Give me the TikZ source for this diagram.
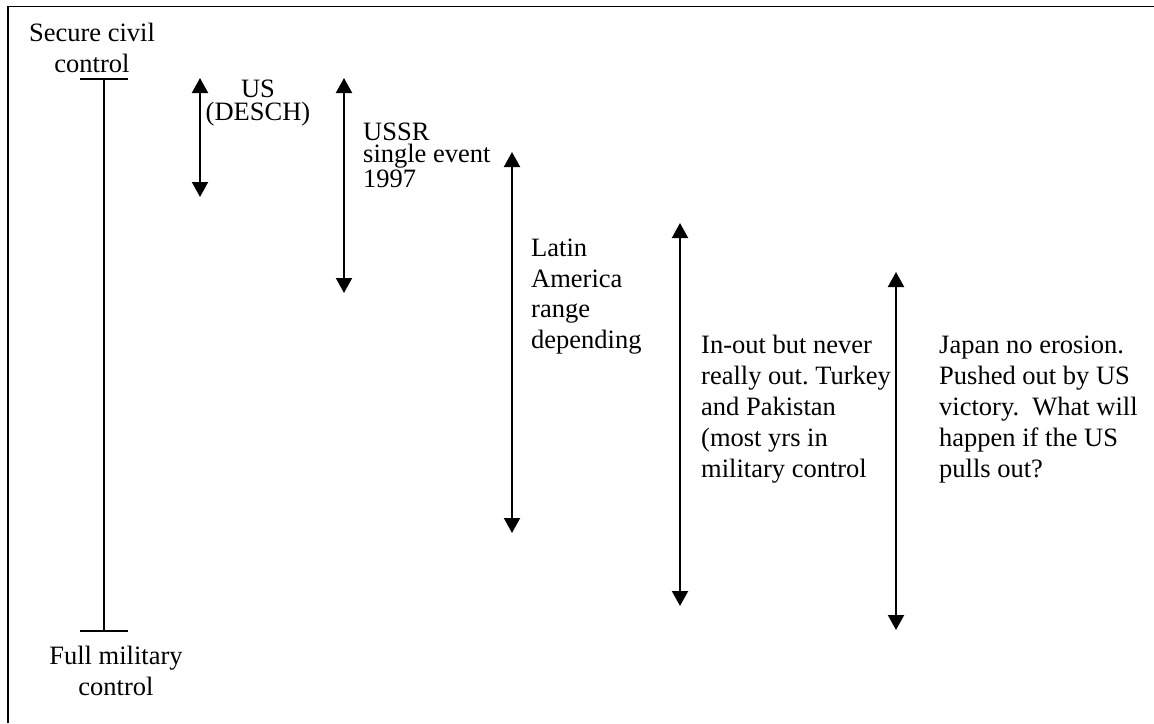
\documentclass[tikz,border=0pt]{standalone}
\usepackage{fontspec}
\setmainfont{Liberation Serif}
\frenchspacing
\usetikzlibrary{arrows.meta}
\tikzset{lbl/.style = {font=\fontsize{26.5}{31}\selectfont, align=left, inner sep=0}}
\tikzset{lbltight/.style = {lbl, font=\fontsize{26.5}{22.5}\selectfont}}
\tikzset{rangearrow/.style = {line width=2pt,
                              {Triangle[width=16pt,length=15pt]}-{Triangle[width=16pt,length=15pt]}}}

\begin{document}
\begin{tikzpicture}[x=1pt, y=-1pt]
    \useasboundingbox (0,0) rectangle (1154,723);
    % frame
    \draw [line width=1.6pt] (8,723) -- (8,6.5) -- (1154,6.5);
    % scale from civil to military
    \coordinate (civil) at (104,79);
    \coordinate (military) at (104,631);
    \draw [line width=2pt] (civil) -- (military);
    \draw [line width=2pt] ([xshift=-24pt]civil) -- ([xshift=24pt]civil);
    \draw [line width=2pt] ([xshift=-24pt]military) -- ([xshift=24pt]military);
    % base anchor sits on the last line
    \node[lbl, align=center, anchor=base] (civiltxt) at (92,72) {Secure civil\\control};
    \node[lbl, align=center, anchor=base] (miltxt) at (116,695) {Full military\\control};
    % ranges
    \coordinate (us1) at (200,78);
    \coordinate (us2) at (200,197);
    \coordinate (ussr1) at (344,78);
    \coordinate (ussr2) at (344,293);
    \coordinate (latin1) at (512,152);
    \coordinate (latin2) at (512,533);
    \coordinate (inout1) at (680,223);
    \coordinate (inout2) at (680,606);
    \coordinate (japan1) at (896,272);
    \coordinate (japan2) at (896,630);
    \foreach \p in {us, ussr, latin, inout, japan} {
        \draw [rangearrow] (\p1) -- (\p2); % two-headed
    }
    \node[lbltight, align=center, anchor=base] (ustxt) at (258,120) {US\\(DESCH)};
    \node[lbltight, anchor=base west] (ussrtxt) at (363,187) {USSR\\single event\\1997};
    \node[lbl, font=\fontsize{26.5}{30.5}\selectfont, anchor=base west] (latintxt) at (531,348)
        {Latin\\America\\range\\depending};
    \node[lbl, anchor=base west] (inouttxt) at (701,477)
        {In-out but never\\really out. Turkey\\and Pakistan\\(most yrs in\\military control};
    \node[lbl, anchor=base west] (japantxt) at (939,477)
        {Japan no erosion.\\Pushed out by US\\victory.\ \ What will\\happen if the US\\pulls out?};
\end{tikzpicture}
\end{document}
